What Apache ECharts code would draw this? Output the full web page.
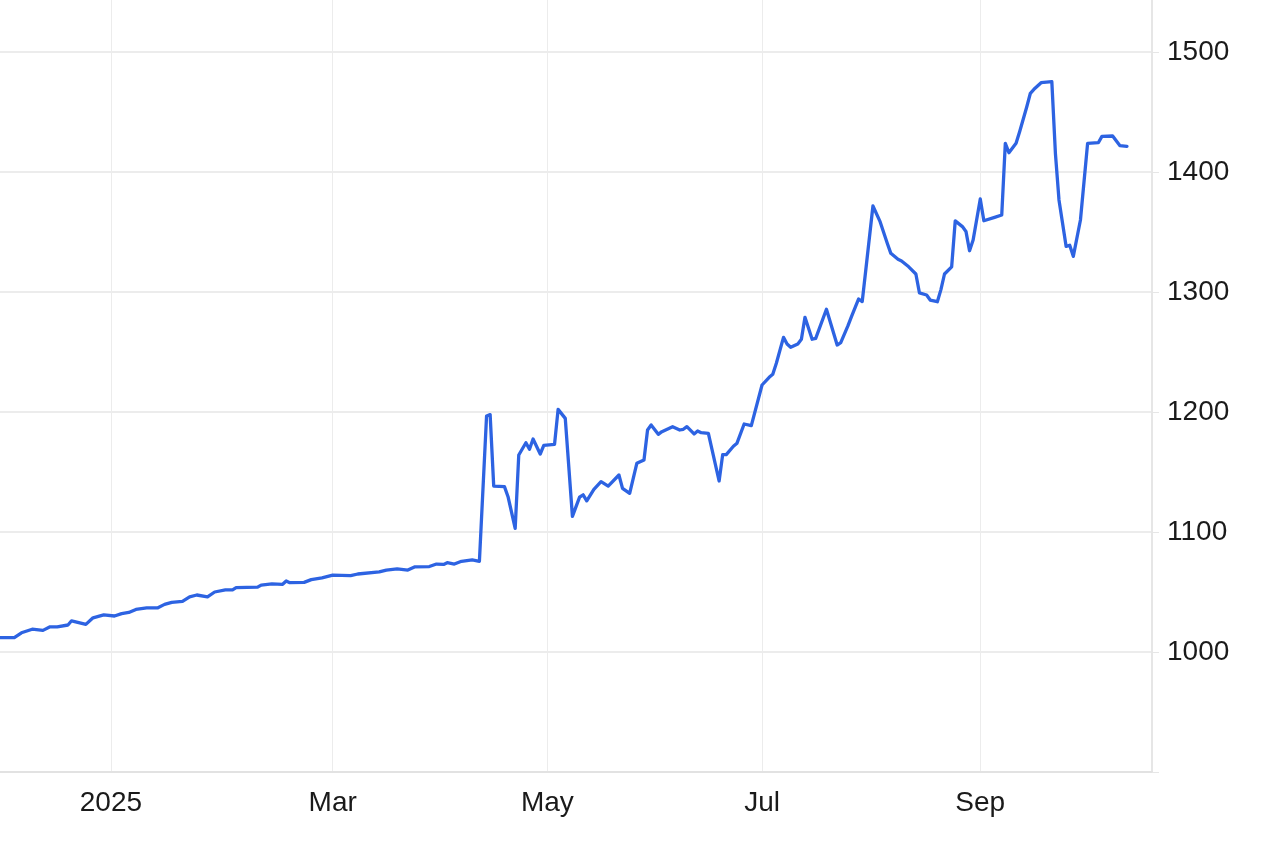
<!DOCTYPE html>
<html>
<head>
<meta charset="utf-8">
<script src="https://cdn.jsdelivr.net/npm/echarts@6/dist/echarts.min.js"></script>
<style>
  html, body { margin: 0; padding: 0; background: #ffffff; }
  #chart { width: 1275px; height: 849px; }
</style>
</head>
<body>
<div id="chart"></div>
<script>
const dates = [
  '2024-11-28','2024-12-05','2024-12-07','2024-12-10','2024-12-13','2024-12-15','2024-12-17','2024-12-20','2024-12-21','2024-12-25',
  '2024-12-27','2024-12-30','2025-01-02','2025-01-04','2025-01-06','2025-01-08','2025-01-11','2025-01-14','2025-01-16','2025-01-18',
  '2025-01-21','2025-01-23','2025-01-25','2025-01-28','2025-01-30','2025-02-02','2025-02-04','2025-02-05','2025-02-11','2025-02-12',
  '2025-02-15','2025-02-18','2025-02-19','2025-02-20','2025-02-24','2025-02-26','2025-03-01','2025-03-04','2025-03-09','2025-03-11',
  '2025-03-17','2025-03-19','2025-03-22','2025-03-25','2025-03-27','2025-03-31','2025-04-02','2025-04-04','2025-04-05','2025-04-07',
  '2025-04-09','2025-04-12','2025-04-14','2025-04-16','2025-04-17','2025-04-18','2025-04-21','2025-04-22','2025-04-24','2025-04-25',
  '2025-04-27','2025-04-28','2025-04-29','2025-05-01','2025-05-02','2025-05-05','2025-05-06','2025-05-08','2025-05-10','2025-05-12',
  '2025-05-13','2025-05-14','2025-05-16','2025-05-18','2025-05-20','2025-05-23','2025-05-24','2025-05-26','2025-05-28','2025-05-30',
  '2025-05-31','2025-06-01','2025-06-03','2025-06-04','2025-06-07','2025-06-09','2025-06-10','2025-06-11','2025-06-13','2025-06-14',
  '2025-06-15','2025-06-17','2025-06-20','2025-06-21','2025-06-22','2025-06-24','2025-06-25','2025-06-27','2025-06-29','2025-07-02',
  '2025-07-04','2025-07-05','2025-07-06','2025-07-08','2025-07-09','2025-07-10','2025-07-12','2025-07-13','2025-07-14','2025-07-16',
  '2025-07-17','2025-07-20','2025-07-23','2025-07-24','2025-07-26','2025-07-27','2025-07-29','2025-07-30','2025-07-31','2025-08-02',
  '2025-08-04','2025-08-06','2025-08-07','2025-08-09','2025-08-10','2025-08-12','2025-08-14','2025-08-15','2025-08-17','2025-08-18',
  '2025-08-20','2025-08-21','2025-08-22','2025-08-24','2025-08-25','2025-08-27','2025-08-28','2025-08-29','2025-08-30','2025-09-01',
  '2025-09-02','2025-09-05','2025-09-07','2025-09-08','2025-09-09','2025-09-11','2025-09-12','2025-09-14','2025-09-15','2025-09-16',
  '2025-09-18','2025-09-21','2025-09-22','2025-09-23','2025-09-25','2025-09-26','2025-09-27','2025-09-29','2025-10-01','2025-10-04',
  '2025-10-05','2025-10-08','2025-10-10','2025-10-12'
];
const values = [
  1012, 1012, 1016, 1019, 1018, 1021, 1021, 1022.5, 1026, 1023,
  1028.5, 1031, 1030, 1032, 1033, 1035.5, 1036.7, 1036.7, 1039.7, 1041.4,
  1042.2, 1046, 1047.5, 1046, 1050, 1051.7, 1051.7, 1053.6, 1054, 1055.8,
  1056.7, 1056.4, 1059.2, 1057.8, 1058, 1060.3, 1061.7, 1064, 1063.6, 1065,
  1066.7, 1068.3, 1069.2, 1068.3, 1071, 1071.2, 1073.3, 1073, 1074.4, 1073.3,
  1075.6, 1076.7, 1075.6, 1196.7, 1197.8, 1138.3, 1137.8, 1129.4, 1103, 1164.2,
  1174.4, 1169, 1177.5, 1165, 1172.2, 1173, 1202.2, 1194.7, 1113, 1129,
  1131, 1126, 1135.6, 1142, 1138.3, 1147.5, 1136.4, 1132.2, 1157.2, 1160,
  1185, 1189.2, 1181.4, 1183.6, 1187.8, 1185, 1185.6, 1187.8, 1181.7, 1184.2,
  1182.8, 1182.2, 1142.5, 1164.5, 1164.5, 1171.5, 1174, 1190, 1188.7, 1222.5,
  1228.9, 1231.4, 1240.6, 1262.2, 1256.7, 1253.9, 1256.7, 1260.6, 1278.9, 1260.6,
  1261.4, 1285.6, 1255.8, 1257.8, 1271.7, 1279.4, 1294.2, 1292, 1318.3, 1371.7,
  1358.6, 1340.6, 1332.2, 1327.2, 1325.8, 1321, 1315, 1299.2, 1297.5, 1293.3,
  1291.9, 1302, 1315, 1321, 1359.3, 1354.5, 1350.5, 1334.4, 1343.3, 1377.5,
  1359.4, 1362.2, 1364.2, 1423.9, 1416.1, 1423.9, 1433.6, 1454.4, 1465.6, 1468.9,
  1474.4, 1475.3, 1415.6, 1376.7, 1338, 1339, 1329.7, 1360, 1423.9, 1424.4,
  1429.7, 1430, 1422, 1421.4
];
const yTicks = [1000, 1100, 1200, 1300, 1400, 1500];
const yTickMarks = [900, 1000, 1100, 1200, 1300, 1400, 1500];
const xTickDates = ['2025-01-01', '2025-03-04', '2025-05-03', '2025-07-02', '2025-09-01'];
const monthNames = ['Jan','Feb','Mar','Apr','May','Jun','Jul','Aug','Sep','Oct','Nov','Dec'];

function toTime(s) { return new Date(s + 'T00:00:00').getTime(); }
const xTickValues = xTickDates.map(toTime);

const chart = echarts.init(document.getElementById('chart'), null, { renderer: 'canvas' });
const seriesData = dates.map((d, i) => [toTime(d), values[i]]);

chart.setOption({
  animation: false,
  backgroundColor: '#ffffff',
  grid: { left: 0, right: 123, top: 0, bottom: 77, containLabel: false },
  xAxis: {
    type: 'value',
    min: toTime('2024-12-01'),
    max: toTime('2025-10-19'),
    axisLine: { show: true, lineStyle: { color: '#e2e2e2', width: 2 } },
    axisTick: { show: false, customValues: xTickValues },
    splitLine: { show: true, lineStyle: { color: '#ececec', width: 1 } },
    axisLabel: {
      customValues: xTickValues,
      color: '#1a1a1a',
      fontSize: 28,
      fontFamily: 'Liberation Sans, Arial, sans-serif',
      margin: 17,
      hideOverlap: false,
      formatter: function (val) {
        const d = new Date(val);
        return d.getMonth() === 0 ? String(d.getFullYear()) : monthNames[d.getMonth()];
      }
    }
  },
  yAxis: {
    type: 'value',
    position: 'right',
    min: 900,
    max: 900 + 772 / 1.2,
    axisLine: { show: true, lineStyle: { color: '#e6e6e6', width: 2 } },
    axisTick: { show: true, length: 7, customValues: yTickMarks, lineStyle: { color: '#e6e6e6' } },
    splitLine: { show: true, lineStyle: { color: '#e6e6e6', width: 1.5 } },
    axisLabel: {
      customValues: yTicks,
      color: '#1a1a1a',
      fontSize: 28,
      fontFamily: 'Liberation Sans, Arial, sans-serif',
      margin: 15,
      formatter: function (v) { return String(v); }
    }
  },
  series: [{
    type: 'line',
    data: seriesData,
    showSymbol: false,
    smooth: false,
    clip: true,
    lineStyle: { color: '#2d63e2', width: 3.3, cap: 'round', join: 'round' }
  }]
});
</script>
</body>
</html>
